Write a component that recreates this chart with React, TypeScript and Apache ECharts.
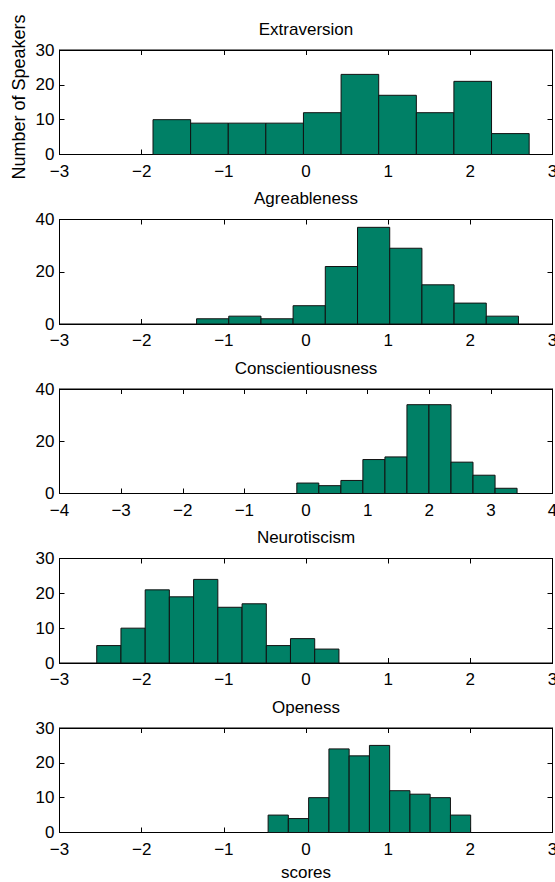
import React, { useEffect, useRef } from "react";
import * as echarts from "echarts";

// ---- data (bin edges and counts) ----
const titles = ["Extraversion", "Agreableness", "Conscientiousness", "Neurotiscism", "Openess"];

const extraversionEdges = [-1.862, -1.404, -0.946, -0.489, -0.031, 0.427, 0.885, 1.343, 1.8, 2.258, 2.716];
const extraversionCounts = [10, 9, 9, 9, 12, 23, 17, 12, 21, 6];

const agreeablenessEdges = [-1.332, -0.94, -0.548, -0.157, 0.235, 0.627, 1.019, 1.411, 1.802, 2.194, 2.586];
const agreeablenessCounts = [2, 3, 2, 7, 22, 37, 29, 15, 8, 3];

const conscientiousnessEdges = [-0.149, 0.208, 0.566, 0.923, 1.281, 1.638, 1.995, 2.353, 2.71, 3.068, 3.425];
const conscientiousnessCounts = [4, 3, 5, 13, 14, 34, 34, 12, 7, 2];

const neuroticismEdges = [-2.547, -2.252, -1.957, -1.663, -1.368, -1.073, -0.778, -0.483, -0.189, 0.106, 0.401];
const neuroticismCounts = [5, 10, 21, 19, 24, 16, 17, 5, 7, 4];

const opennessEdges = [-0.461, -0.215, 0.032, 0.279, 0.525, 0.772, 1.018, 1.265, 1.511, 1.758, 2.004];
const opennessCounts = [5, 4, 10, 24, 22, 25, 12, 11, 10, 5];

const xRanges = [[-3, 3], [-3, 3], [-4, 4], [-3, 3], [-3, 3]];
const yMaxes = [30, 40, 40, 30, 30];
const yIntervals = [10, 20, 20, 10, 10];

const yLabel = "Number of Speakers";
const xLabel = "scores";

const allEdges = [extraversionEdges, agreeablenessEdges, conscientiousnessEdges, neuroticismEdges, opennessEdges];
const allCounts = [extraversionCounts, agreeablenessCounts, conscientiousnessCounts, neuroticismCounts, opennessCounts];

const FONT = "'Liberation Sans', Arial, Helvetica, sans-serif";
const FS = 17;

function fmt(v: number) {
  return v < 0 ? "\u2212" + Math.abs(v) : String(v);
}

export default function App() {
  const ref = useRef<HTMLDivElement>(null);

  useEffect(() => {
    if (!ref.current) return;
    const chart = echarts.init(ref.current, undefined, { renderer: "svg" });

    const tops = [50, 219.5, 389, 558.5, 728];
    const gridH = 104.5;
    const grids: any[] = [];
    const xAxes: any[] = [];
    const yAxes: any[] = [];
    const series: any[] = [];

    for (let i = 0; i < 5; i++) {
      grids.push({
        left: 59.5,
        right: 2.5,
        top: tops[i],
        height: gridH,
        show: true,
        borderColor: "#000",
        borderWidth: 1,
        backgroundColor: "#fff",
        containLabel: false,
        outerBoundsMode: "none",
      });
      const [xmin, xmax] = xRanges[i];
      xAxes.push({
        type: "value",
        gridIndex: i,
        min: xmin,
        max: xmax,
        interval: 1,
        position: "bottom",
        axisLine: { show: true, onZero: false, lineStyle: { color: "#000", width: 1 } },
        axisTick: { show: true, inside: true, length: 5, lineStyle: { color: "#000" } },
        splitLine: { show: false },
        axisLabel: {
          show: true,
          formatter: fmt,
          color: "#000",
          fontFamily: FONT,
          fontSize: FS,
          margin: 8,
          showMinLabel: true,
          showMaxLabel: true,
          hideOverlap: false,
        },
      });
      xAxes.push({
        type: "value",
        gridIndex: i,
        min: xmin,
        max: xmax,
        interval: 1,
        position: "top",
        axisLine: { show: true, onZero: false, lineStyle: { color: "#000", width: 1 } },
        axisTick: { show: true, inside: true, length: 5, lineStyle: { color: "#000" } },
        splitLine: { show: false },
        axisLabel: { show: false },
      });
      yAxes.push({
        type: "value",
        gridIndex: i,
        min: 0,
        max: yMaxes[i],
        interval: yIntervals[i],
        position: "left",
        axisLine: { show: true, onZero: false, lineStyle: { color: "#000", width: 1 } },
        axisTick: { show: true, inside: true, length: 5, lineStyle: { color: "#000" } },
        splitLine: { show: false },
        axisLabel: {
          show: true,
          color: "#000",
          fontFamily: FONT,
          fontSize: FS,
          margin: 5,
          hideOverlap: false,
        },
      });
      yAxes.push({
        type: "value",
        gridIndex: i,
        min: 0,
        max: yMaxes[i],
        interval: yIntervals[i],
        position: "right",
        axisLine: { show: true, onZero: false, lineStyle: { color: "#000", width: 1 } },
        axisTick: { show: true, inside: true, length: 5, lineStyle: { color: "#000" } },
        splitLine: { show: false },
        axisLabel: { show: false },
      });

      const edges = allEdges[i];
      const counts = allCounts[i];
      const data = counts.map((c, k) => [edges[k], edges[k + 1], c]);
      series.push({
        type: "custom",
        xAxisIndex: i * 2,
        yAxisIndex: i * 2,
        encode: { x: [0, 1], y: 2 },
        data,
        z: 1,
        renderItem: (params: any, api: any) => {
          const x0 = api.value(0);
          const x1 = api.value(1);
          const c = api.value(2);
          const p0 = api.coord([x0, c]);
          const p1 = api.coord([x1, 0]);
          return {
            type: "rect",
            shape: { x: p0[0], y: p0[1], width: p1[0] - p0[0], height: p1[1] - p0[1] },
            style: { fill: "#008066", stroke: "#111", lineWidth: 1 },
          };
        },
      });
    }

    chart.setOption({
      animation: false,
      backgroundColor: "#fff",
      grid: grids,
      xAxis: xAxes,
      yAxis: yAxes,
      series,
      graphic: [
        ...titles.map((t, i) => ({
          type: "text",
          x: 306,
          y: tops[i] - 21,
          style: {
            text: t,
            textAlign: "center",
            textVerticalAlign: "middle",
            fill: "#000",
            font: `${FS}px ${FONT}`,
          },
        })),
        {
          type: "text",
          x: 19,
          y: 97,
          rotation: Math.PI / 2,
          style: {
            text: yLabel,
            textAlign: "center",
            textVerticalAlign: "middle",
            fill: "#000",
            font: `18px ${FONT}`,
          },
        },
        {
          type: "text",
          x: 306,
          y: 872,
          style: {
            text: xLabel,
            textAlign: "center",
            textVerticalAlign: "middle",
            fill: "#000",
            font: `${FS}px ${FONT}`,
          },
        },
      ],
    });

    return () => chart.dispose();
  }, []);

  return (
    <div
      ref={ref}
      style={{ position: "fixed", left: 0, top: 0, width: 555, height: 882, background: "#fff" }}
    />
  );
}
